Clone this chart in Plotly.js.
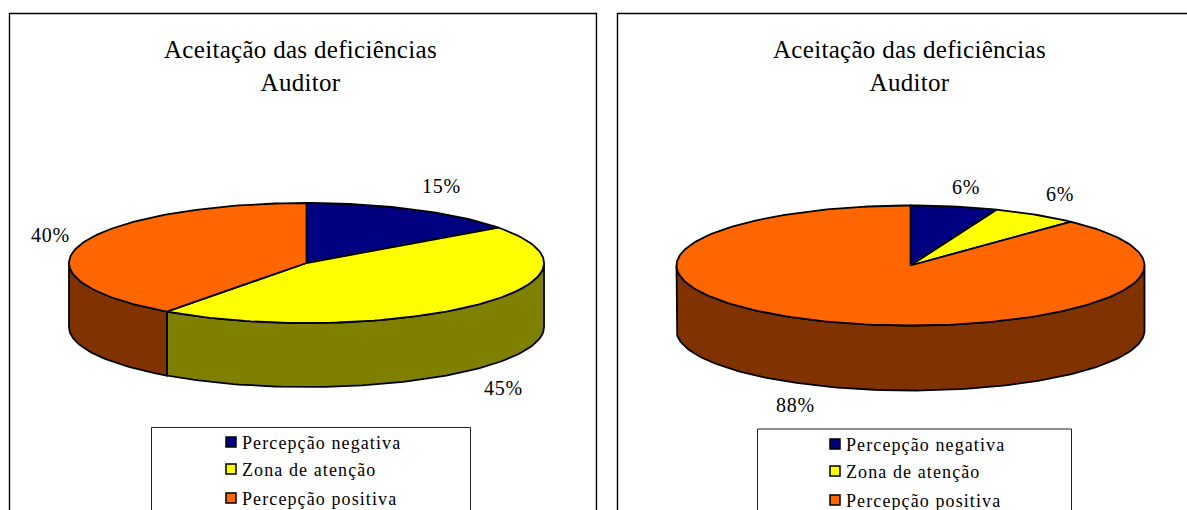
<!DOCTYPE html>
<html>
<head>
<meta charset="utf-8">
<script src="https://cdn.plot.ly/plotly-3.0.1.min.js"></script>
<style>html,body{margin:0;padding:0;background:#fff;overflow:hidden}</style>
</head>
<body>
<div id="chart" style="width:1187px;height:510px"></div>
<script>
const categories = ["Percepção negativa", "Zona de atenção", "Percepção positiva"];
const valuesLeft = [15, 45, 40];
const valuesRight = [6, 6, 88];
const titleLines = ["Aceitação das deficiências", "Auditor"];
const topColors = ["#000080", "#FFFF00", "#FF6600"];
const sideColors = ["#000040", "#808000", "#803300"];

const FONT = "Liberation Serif, Times New Roman, serif";
const spaced = (t, px) => `<span style="letter-spacing:${px}px">${t}</span>`;
const panels = [
  {xa:"x", ya:"y", values:valuesLeft, cx:306.5, cy:263, rx:237.5, ry:60, depth:64,
   titleX:300.5, titleY:66,
   labels:[[441,186],[503,388],[50,235]],
   box:[151.5,427.5,470.5], keyX:231, textX:240, keyY:[442,469,498]},
  {xa:"x2", ya:"y2", values:valuesRight, cx:910.5, cy:265.5, rx:234, ry:60, depth:65,
   titleX:909.5, titleY:66,
   labels:[[966,187],[1060,194],[796,405]],
   box:[757.5,429,1071.5], keyX:835, textX:844, keyY:[444,471,500]}
];

function arc(p, a0, a1, dz) {
  const n = Math.max(2, Math.ceil(Math.abs(a1 - a0) / 1.5));
  const xs = [], ys = [];
  for (let i = 0; i <= n; i++) {
    const a = (a0 + (a1 - a0) * i / n) * Math.PI / 180;
    xs.push(p.cx + p.rx * Math.sin(a));
    ys.push(p.cy - p.ry * Math.cos(a) + dz);
  }
  return [xs, ys];
}

const traces = [], annotations = [], shapes = [];

panels.forEach(p => {
  const total = p.values.reduce((s, v) => s + v, 0);
  let acc = 0;
  const spans = p.values.map(v => {
    const s = [acc / total * 360, (acc + v) / total * 360];
    acc += v;
    return s;
  });

  // side walls (front half of the disc only)
  spans.forEach((s, i) => {
    const a0 = Math.max(s[0], 90), a1 = Math.min(s[1], 270);
    if (a1 <= a0) return;
    const t = arc(p, a0, a1, 0), b = arc(p, a1, a0, p.depth);
    traces.push({
      type:"scatter", mode:"lines", xaxis:p.xa, yaxis:p.ya, fill:"toself",
      x:t[0].concat(b[0], [t[0][0]]), y:t[1].concat(b[1], [t[1][0]]),
      fillcolor:sideColors[i], line:{color:"#000", width:1.8},
      name:categories[i], showlegend:false, hoverinfo:"skip"
    });
  });

  // top faces
  spans.forEach((s, i) => {
    const t = arc(p, s[0], s[1], 0);
    traces.push({
      type:"scatter", mode:"lines", xaxis:p.xa, yaxis:p.ya, fill:"toself",
      x:[p.cx].concat(t[0], [p.cx]), y:[p.cy].concat(t[1], [p.cy]),
      fillcolor:topColors[i], line:{color:"#000", width:1.8},
      name:categories[i], showlegend:false, hoverinfo:"name"
    });
  });

  // legend keys and names
  categories.forEach((c, i) => {
    traces.push({
      type:"scatter", mode:"markers", xaxis:p.xa, yaxis:p.ya,
      x:[p.keyX], y:[p.keyY[i]], cliponaxis:false,
      marker:{symbol:"square", size:10, color:topColors[i], line:{color:"#000", width:1.5}},
      showlegend:false, hoverinfo:"skip"
    });
    annotations.push({
      xref:p.xa, yref:p.ya, x:p.textX, y:p.keyY[i]+1, text:spaced(c, 1.1), showarrow:false,
      xanchor:"left", yanchor:"middle", font:{family:FONT, size:18, color:"#000"}
    });
  });

  // percentage labels
  p.values.forEach((v, i) => {
    annotations.push({
      xref:p.xa, yref:p.ya, x:p.labels[i][0], y:p.labels[i][1], text:spaced(v + "%", 0.7),
      showarrow:false, xanchor:"center", yanchor:"middle",
      font:{family:FONT, size:20, color:"#000"}
    });
  });

  // title
  annotations.push({
    xref:p.xa, yref:p.ya, x:p.titleX, y:p.titleY,
    text:titleLines.map(t => spaced(t, 0.3)).join("<br>"), showarrow:false,
    xanchor:"center", yanchor:"middle", align:"center",
    font:{family:FONT, size:25, color:"#000"}
  });

  // legend box
  shapes.push({
    type:"path", xref:p.xa, yref:p.ya, layer:"below",
    path:`M${p.box[0]},520 L${p.box[0]},${p.box[1]} L${p.box[2]},${p.box[1]} L${p.box[2]},520`,
    line:{color:"#222", width:1}
  });
});

// chart frames, open at the bottom and right as in the cropped original
shapes.push(
  {type:"path", xref:"paper", yref:"paper", layer:"below",
   path:"M0.008,-0.02 L0.008,0.9735 L0.5025,0.9735 L0.5025,-0.02", line:{color:"#000", width:1.4}},
  {type:"path", xref:"paper", yref:"paper", layer:"below",
   path:"M0.5202,-0.02 L0.5202,0.9735 L1.02,0.9735", line:{color:"#000", width:1.4}}
);

const hidden = {visible:false, fixedrange:true};
const layout = {
  width:1187, height:510, margin:{l:0, r:0, t:0, b:0},
  paper_bgcolor:"#fff", plot_bgcolor:"#fff", showlegend:false,
  xaxis:Object.assign({domain:[0, 607/1187], range:[0, 607]}, hidden),
  yaxis:Object.assign({domain:[0, 1], range:[510, 0]}, hidden),
  xaxis2:Object.assign({domain:[607/1187, 1], range:[607, 1187]}, hidden),
  yaxis2:Object.assign({domain:[0, 1], range:[510, 0]}, hidden),
  annotations:annotations, shapes:shapes
};
Plotly.newPlot("chart", traces, layout, {displayModeBar:false});
</script>
</body>
</html>
